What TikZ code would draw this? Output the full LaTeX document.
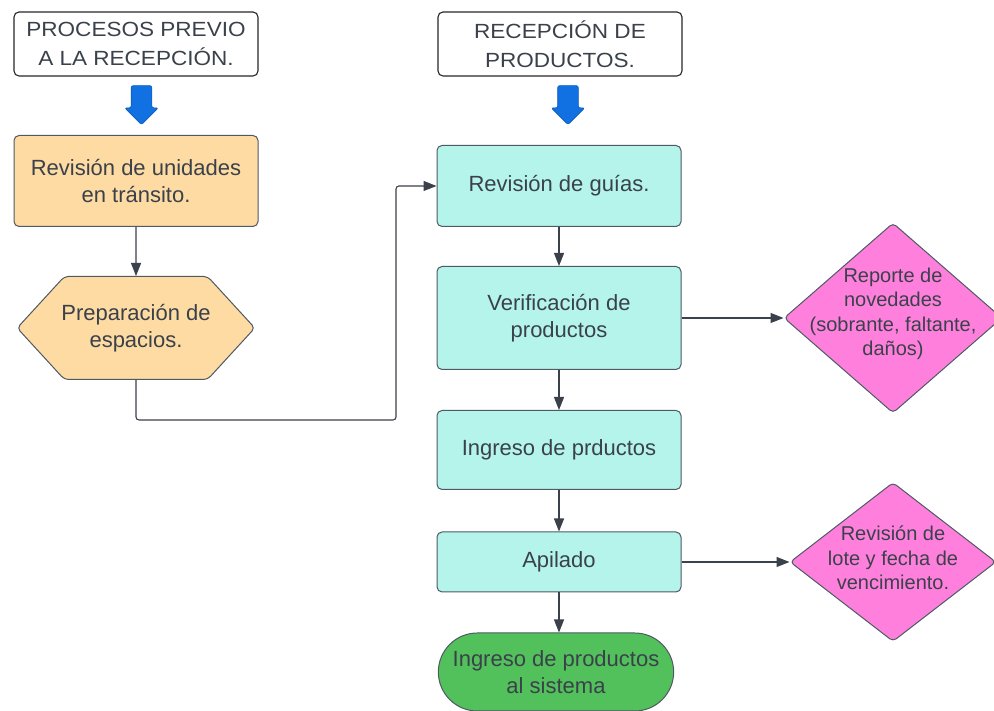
\documentclass[tikz,border=0pt]{standalone}
\usepackage{fontspec}
\setmainfont{Liberation Sans}
\newfontfamily\headfont{Liberation Sans}[FakeStretch=1.1]
\usetikzlibrary{shapes,arrows.meta,calc}
\definecolor{txt}{HTML}{3A414A}
\definecolor{edge}{HTML}{4E5964}
\definecolor{naranja}{HTML}{FDDBA3}
\definecolor{aqua}{HTML}{B5F4EB}
\definecolor{rosa}{HTML}{FF80DC}
\definecolor{verde}{HTML}{52C15C}
\definecolor{azul}{HTML}{1170E2}
\tikzstyle{line} = [draw=txt, line width=1.1pt, -{Triangle[length=13pt,width=10pt]}]
\tikzstyle{heading} = [draw=black!85, line width=1.1pt, rectangle, rounded corners=5pt, minimum width=244pt, minimum height=64pt, align=center, text=txt, font=\headfont\fontsize{20.5}{28.5}\selectfont]
\tikzstyle{block} = [draw=edge, line width=1pt, fill=aqua, rectangle, rounded corners=5pt, minimum width=244pt, align=center, text=txt, font=\fontsize{22}{27}\selectfont]
\tikzstyle{prevblock} = [block, fill=naranja]
\tikzstyle{hexa} = [draw=edge, line width=1pt, fill=naranja, signal, signal to=west and east, signal pointer angle=95, rounded corners=4pt, inner xsep=-3pt, minimum height=103pt, align=center, text=txt, font=\fontsize{22}{27}\selectfont]
\tikzstyle{rombo} = [draw=edge, line width=1pt, fill=rosa, diamond, rounded corners=4pt, inner sep=0pt]
\tikzstyle{rombotext} = [align=center, text=txt, font=\fontsize{20}{24.5}\selectfont]
\tikzstyle{terminal} = [draw=edge, line width=1pt, fill=verde, rounded rectangle, minimum width=242pt, minimum height=78pt, align=center, text=txt, font=\fontsize{22}{27}\selectfont]
\tikzstyle{bigarrow} = [single arrow, shape border rotate=270, fill=azul, draw=azul!80!black, line width=0.6pt, inner sep=10pt, minimum height=39pt, minimum width=33pt, single arrow head extend=6.5pt, rounded corners=2pt]

\begin{document}
\begin{tikzpicture}[x=1pt, y=1pt, node distance = 132pt]
    \useasboundingbox (0,0) rectangle (994,711);
    % left column
    \node[heading] (previo) at (136,667) {PROCESOS PREVIO\\A LA RECEPCIÓN.};
    \node[bigarrow, below of=previo, node distance=56pt, xshift=5.5pt] (flecha1) {};
    \node[prevblock, below of=previo, node distance=137pt, minimum height=91pt] (transito) {Revisión de unidades\\en tránsito.};
    \node[hexa, below of=transito, node distance=147pt] (espacios) {Preparación de\\espacios.};
    % right column
    \node[heading, right of=previo, node distance=424pt] (recepcion) {RECEPCIÓN DE\\PRODUCTOS.};
    \node[bigarrow, below of=recepcion, node distance=56pt, xshift=8pt] (flecha2) {};
    \node[block, below of=recepcion, node distance=142pt, xshift=-1pt, minimum height=81pt] (guias) {Revisión de guías.};
    \node[block, below of=guias, minimum height=103pt] (verif) {Verificación de\\productos};
    \node[block, below of=verif, minimum height=79pt] (ingreso) {Ingreso de prductos};
    \node[block, below of=ingreso, node distance=112pt, minimum height=60pt] (apilado) {Apilado};
    \node[terminal, below of=apilado, node distance=110pt, xshift=-3pt] (sistema) {Ingreso de productos\\al sistema};
    % side diamonds
    \node[rombo, right of=verif, node distance=334pt, minimum width=218pt, minimum height=190pt,
        label={[rombotext, yshift=4pt]center:Reporte de\\novedades\\(sobrante, faltante,\\daños)}] (novedades) {};
    \node[rombo, right of=apilado, node distance=334pt, minimum width=206pt, minimum height=159pt,
        label={[rombotext, yshift=4pt]center:Revisión de\\lote y fecha de\\vencimiento.}] (lote) {};
    \coordinate (giro) at (396,291);
    % connectors
    \path[line] (transito) -- (espacios);
    \path[line, rounded corners=3pt] (espacios.south) |- (giro) |- (guias.west);
    \path[line] (guias) -- (verif);
    \path[line] (verif) -- (ingreso);
    \path[line] (ingreso) -- (apilado);
    \path[line] (apilado.south) -- (apilado.south |- sistema.north);
    \path[line] (verif) -- (novedades);
    \path[line] (apilado) -- (lote);
\end{tikzpicture}
\end{document}
